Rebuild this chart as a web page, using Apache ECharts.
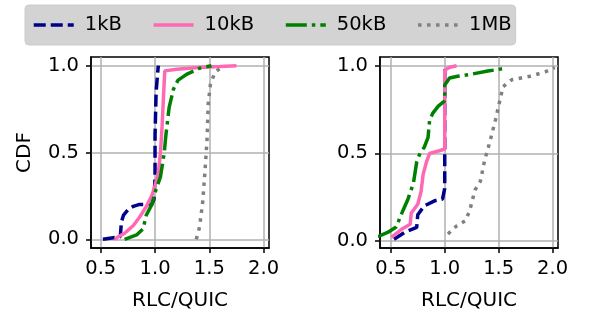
<!DOCTYPE html>
<html>
<head>
<meta charset="utf-8">
<script src="https://cdn.jsdelivr.net/npm/echarts@6/dist/echarts.min.js"></script>
<style>
  html, body { margin: 0; padding: 0; background: #fff; }
  #chart { width: 602px; height: 326px; }
</style>
</head>
<body>
<div id="chart"></div>
<script>
// series names
const names = ['1kB', '10kB', '50kB', '1MB'];
const colors = ['#00008b', '#ff69b4', '#008000', '#808080'];
const dashes = [[12, 5], 'solid', [21, 5, 3.5, 5], [3.5, 5.5]];

// ticks
const xTicks = [0.5, 1.0, 1.5, 2.0];
const yTicks = [0, 0.5, 1.0];

// left panel, [ratio, cdf]
const left1kB = [[0.52, 0], [0.6, 0.008], [0.68, 0.015], [0.69, 0.1], [0.71, 0.14], [0.75, 0.17], [0.8, 0.19], [0.85, 0.2], [0.97, 0.2], [0.99, 0.23], [1.0, 0.35], [1.0, 0.6], [1.01, 0.85], [1.03, 1.0]];
const left10kB = [[0.63, 0], [0.65, 0.01], [0.72, 0.035], [0.8, 0.08], [0.86, 0.13], [0.92, 0.19], [0.97, 0.25], [1.0, 0.31], [1.03, 0.38], [1.05, 0.5], [1.065, 0.65], [1.08, 0.85], [1.09, 0.97], [1.2, 0.98], [1.4, 0.99], [1.6, 0.995], [1.75, 1.0]];
const left50kB = [[0.72, 0], [0.83, 0.025], [0.89, 0.06], [0.92, 0.14], [0.97, 0.2], [1.01, 0.29], [1.05, 0.36], [1.085, 0.5], [1.1, 0.6], [1.13, 0.76], [1.17, 0.865], [1.21, 0.915], [1.29, 0.95], [1.41, 0.985], [1.52, 1.0]];
const left1MB = [[1.38, 0], [1.41, 0.07], [1.44, 0.22], [1.46, 0.39], [1.48, 0.585], [1.49, 0.78], [1.51, 0.89], [1.55, 0.96], [1.63, 1.0]];

// right panel
const right1kB = [[0.53, 0.01], [0.63, 0.05], [0.74, 0.077], [0.75, 0.15], [0.81, 0.2], [0.91, 0.23], [0.98, 0.24], [1.0, 0.3], [1.0, 1.0]];
const right10kB = [[0.505, 0.02], [0.6, 0.067], [0.68, 0.096], [0.69, 0.16], [0.75, 0.21], [0.78, 0.28], [0.8, 0.38], [0.83, 0.45], [0.86, 0.5], [0.95, 0.515], [1.0, 0.525], [1.0, 0.975], [1.04, 0.99], [1.11, 1.0]];
const right50kB = [[0.38, 0.025], [0.475, 0.05], [0.55, 0.08], [0.61, 0.17], [0.66, 0.24], [0.71, 0.33], [0.74, 0.45], [0.77, 0.5], [0.81, 0.535], [0.845, 0.59], [0.86, 0.69], [0.89, 0.73], [0.94, 0.77], [1.0, 0.8], [1.0, 0.89], [1.045, 0.93], [1.12, 0.94], [1.23, 0.95], [1.4, 0.97], [1.56, 0.985]];
const right1MB = [[1.03, 0.04], [1.11, 0.086], [1.19, 0.115], [1.23, 0.17], [1.28, 0.29], [1.33, 0.34], [1.37, 0.46], [1.42, 0.57], [1.47, 0.69], [1.51, 0.8], [1.54, 0.88], [1.62, 0.92], [1.79, 0.94], [1.93, 0.965], [2.02, 0.99]];

const leftData = [left1kB, left10kB, left50kB, left1MB];
const rightData = [right1kB, right10kB, right50kB, right1MB];

const font = 'DejaVu Sans';
const fs = 19.5;
const chart = echarts.init(document.getElementById('chart'));

function xAxis(idx, min) {
  return {
    type: 'value', gridIndex: idx, min: min, max: 2.05,
    name: 'RLC/QUIC', nameLocation: 'middle', nameGap: 43,
    nameTextStyle: { fontFamily: font, fontSize: 20, color: '#000' },
    axisLine: { show: true, onZero: false, lineStyle: { color: '#000', width: 1.5 } },
    axisTick: { show: true, length: 5, customValues: xTicks, lineStyle: { color: '#000', width: 1.5 } },
    axisLabel: { customValues: xTicks, margin: 11, fontFamily: font, fontSize: fs, color: '#000',
      formatter: v => v.toFixed(1) },
    splitLine: { show: true, lineStyle: { color: '#b0b0b0', width: 1.5 } }
  };
}

function yAxis(idx, min, max, withName) {
  return {
    type: 'value', gridIndex: idx, min: min, max: max,
    name: withName ? 'CDF' : '', nameLocation: 'middle', nameGap: 56, nameRotate: 90,
    nameTextStyle: { fontFamily: font, fontSize: 20, color: '#000' },
    axisLine: { show: true, onZero: false, lineStyle: { color: '#000', width: 1.5 } },
    axisTick: { show: true, length: 5, customValues: yTicks, lineStyle: { color: '#000', width: 1.5 } },
    axisLabel: { customValues: yTicks, margin: 12, fontFamily: font, fontSize: fs, color: '#000',
      formatter: v => v.toFixed(1) },
    splitLine: { show: true, lineStyle: { color: '#b0b0b0', width: 1.5 } }
  };
}

const series = [];
[leftData, rightData].forEach((panel, p) => {
  panel.forEach((d, i) => {
    series.push({
      name: names[i], type: 'line', xAxisIndex: p, yAxisIndex: p,
      data: d, showSymbol: false, symbol: 'none', smooth: false,
      clip: true, animation: false,
      lineStyle: { color: colors[i], width: 3.5, type: dashes[i] },
      itemStyle: { color: colors[i] }
    });
  });
});

chart.setOption({
  animation: false,
  legend: {
    data: names, left: 25, top: 5,
    padding: [10, 4, 10, 7],
    itemWidth: 40, itemHeight: 18, itemGap: 30,
    backgroundColor: '#d3d3d3', borderColor: '#cccccc', borderWidth: 1, borderRadius: 4,
    lineStyle: { width: 3.5 },
    // hide the circle marker that line legends draw
    itemStyle: { color: 'transparent', borderColor: 'transparent', borderWidth: 0 },
    textStyle: { fontFamily: font, fontSize: fs, color: '#000', padding: [0, 0, 0, 6] }
  },
  grid: [
    { left: 91, top: 57, width: 178, height: 191, show: true, borderColor: '#000', borderWidth: 1.5, backgroundColor: 'transparent' },
    { left: 380, top: 57, width: 178, height: 191, show: true, borderColor: '#000', borderWidth: 1.5, backgroundColor: 'transparent' }
  ],
  xAxis: [xAxis(0, 0.41), xAxis(1, 0.40)],
  yAxis: [yAxis(0, -0.05, 1.05, true), yAxis(1, -0.04, 1.05, false)],
  series: series
});
</script>
</body>
</html>
